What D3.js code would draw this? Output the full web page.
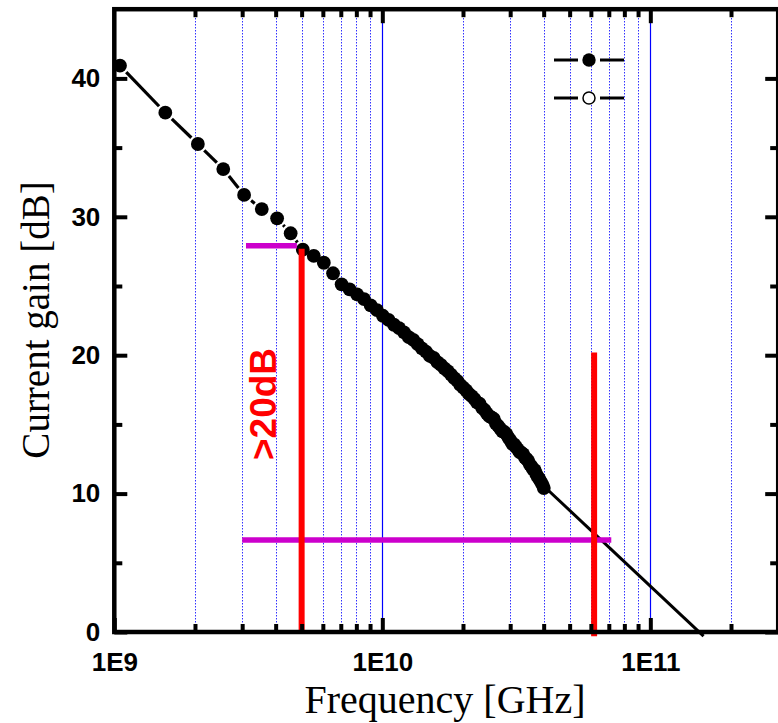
<!DOCTYPE html>
<html>
<head>
<meta charset="utf-8">
<script src="https://cdn.jsdelivr.net/npm/d3@7"></script>
<style>
body { margin: 0; background: #fff; }
svg { display: block; }
.tick text { font-family: "Liberation Sans", Arial, sans-serif; font-weight: bold; font-size: 26px; fill: #000; }
</style>
</head>
<body>
<div id="chart"></div>
<script>
// measured current gain, frequency in GHz
var freqGHz = [1.05, 1.55, 2.05, 2.55, 3.05, 3.55, 4.05, 4.55, 5.05, 5.55,
	6.05, 6.55, 7.05, 7.55, 8.05, 8.55, 9.05, 9.55, 10.05, 10.55,
	11.05, 11.55, 12.05, 12.55, 13.05, 13.55, 14.05, 14.55, 15.05, 15.55,
	16.05, 16.55, 17.05, 17.55, 18.05, 18.55, 19.05, 19.55, 20.05, 20.55,
	21.05, 21.55, 22.05, 22.55, 23.05, 23.55, 24.05, 24.55, 25.05, 25.55,
	26.05, 26.55, 27.05, 27.55, 28.05, 28.55, 29.05, 29.55, 30.05, 30.55,
	31.05, 31.55, 32.05, 32.55, 33.05, 33.55, 34.05, 34.55, 35.05, 35.55,
	36.05, 36.55, 37.05, 37.55, 38.05, 38.55, 39.05, 39.55, 40.05];
var gainDb = [40.92, 37.52, 35.26, 33.45, 31.58, 30.56, 29.89, 28.81, 27.62, 27.17,
	26.68, 25.92, 25.12, 24.75, 24.40, 24.05, 23.60, 23.25, 22.85, 22.55,
	22.20, 21.95, 21.65, 21.30, 21.10, 20.80, 20.50, 20.25, 19.95, 19.80,
	19.50, 19.30, 19.05, 18.85, 18.60, 18.35, 18.15, 17.85, 17.65, 17.45,
	17.20, 17.05, 16.85, 16.60, 16.50, 16.20, 16.05, 15.80, 15.60, 15.50,
	15.40, 15.05, 14.90, 14.70, 14.50, 14.45, 14.30, 14.05, 13.85, 13.60,
	13.55, 13.35, 13.20, 13.00, 12.95, 12.85, 12.60, 12.50, 12.35, 12.10,
	11.95, 11.75, 11.70, 11.40, 11.20, 11.05, 10.85, 10.65, 10.40];

// extrapolation line
var fitFreq = [4.0e10, 1.58e11];
var fitGain = [10.55, -0.3];

// annotations
var markFreq = [5e9, 6.17e10];
var markTop = [27.7, 20.2];
var markBottom = [0, -0.3];
var spanFrom = [3.1e9, 3e9];
var spanTo = [4.8e9, 7.15e10];
var spanGain = [27.9, 6.65];

// axes
var majorX = [1e9, 1e10, 1e11];
var majorXLabels = ['1E9', '1E10', '1E11'];
var minorX = [2e9, 3e9, 4e9, 5e9, 6e9, 7e9, 8e9, 9e9,
	2e10, 3e10, 4e10, 5e10, 6e10, 7e10, 8e10, 9e10, 2e11];
var majorY = [0, 10, 20, 30, 40];
var minorY = [5, 15, 25, 35];

var W = 778, H = 723;
var margin = { top: 9.2, left: 114.3 };
var pw = 778.2 - margin.left, ph = 632 - margin.top;

var svg = d3.select('#chart').append('svg')
	.attr('width', W).attr('height', H);

var x = d3.scaleLog().domain([1e9, 3e11]).range([0, pw]);
var y = d3.scaleLinear().domain([0, 45]).range([ph, 0]);

var g = svg.append('g').attr('transform', 'translate(' + margin.left + ',' + margin.top + ')');

// grid
var grid = g.append('g');
grid.selectAll('line.minor').data(minorX).enter().append('line')
	.attr('x1', function (d) { return Math.round(x(d) + margin.left) - margin.left + 0.5; })
	.attr('x2', function (d) { return Math.round(x(d) + margin.left) - margin.left + 0.5; })
	.attr('y1', 0).attr('y2', ph)
	.attr('stroke', '#0000ff').attr('stroke-width', 1)
	.attr('stroke-dasharray', '1.2,1.8');
grid.selectAll('line.major').data(majorX.slice(1)).enter().append('line')
	.attr('x1', function (d) { return Math.round(x(d) + margin.left) - margin.left + 0.5; })
	.attr('x2', function (d) { return Math.round(x(d) + margin.left) - margin.left + 0.5; })
	.attr('y1', 0).attr('y2', ph)
	.attr('stroke', '#0000ff').attr('stroke-width', 1.2);

// connecting line with gaps round the symbols
var pts = freqGHz.map(function (f, i) { return [x(f * 1e9), y(gainDb[i])]; });
var gap = 9;
var segs = [];
for (var i = 0; i < pts.length - 1; i++) {
	var dx = pts[i + 1][0] - pts[i][0], dy = pts[i + 1][1] - pts[i][1];
	var len = Math.sqrt(dx * dx + dy * dy);
	if (len > 2 * gap) {
		var ux = dx / len, uy = dy / len;
		segs.push([pts[i][0] + ux * gap, pts[i][1] + uy * gap, pts[i + 1][0] - ux * gap, pts[i + 1][1] - uy * gap]);
	}
}
g.selectAll('line.seg').data(segs).enter().append('line')
	.attr('x1', function (d) { return d[0]; }).attr('y1', function (d) { return d[1]; })
	.attr('x2', function (d) { return d[2]; }).attr('y2', function (d) { return d[3]; })
	.attr('stroke', '#000').attr('stroke-width', 3.2);

// extrapolation
g.append('path')
	.datum(fitFreq.map(function (f, i) { return [f, fitGain[i]]; }))
	.attr('d', d3.line().x(function (d) { return x(d[0]); }).y(function (d) { return y(d[1]); }))
	.attr('stroke', '#000').attr('stroke-width', 3).attr('fill', 'none');

g.selectAll('circle.pt').data(pts).enter().append('circle')
	.attr('cx', function (d) { return d[0]; }).attr('cy', function (d) { return d[1]; })
	.attr('r', 6.9).attr('fill', '#000');

// magenta spans
g.selectAll('line.span').data(spanGain).enter().append('line')
	.attr('x1', function (d, i) { return x(spanFrom[i]); })
	.attr('x2', function (d, i) { return x(spanTo[i]); })
	.attr('y1', function (d) { return y(d); }).attr('y2', function (d) { return y(d); })
	.attr('stroke', '#cc00cc').attr('stroke-width', 5.5);

// red markers
g.selectAll('line.mark').data(markFreq).enter().append('line')
	.attr('x1', function (d) { return x(d); }).attr('x2', function (d) { return x(d); })
	.attr('y1', function (d, i) { return y(markBottom[i]); })
	.attr('y2', function (d, i) { return y(markTop[i]); })
	.attr('stroke', '#ff0000').attr('stroke-width', 6);

g.append('text')
	.attr('transform', 'translate(' + (276 - margin.left) + ',' + (404 - margin.top) + ') rotate(-90)')
	.attr('text-anchor', 'middle')
	.attr('font-family', '"Liberation Sans", Arial, sans-serif')
	.attr('font-weight', 'bold').attr('font-size', 37)
	.attr('fill', '#ff0000')
	.text('>20dB');

// axes, ticks point inward
function styleAxis(sel) {
	sel.select('.domain').remove();
	sel.selectAll('.tick line').attr('stroke', '#000').attr('stroke-width', 4);
}
g.append('g').attr('transform', 'translate(0,' + ph + ')')
	.call(d3.axisBottom(x).tickValues(majorX).tickSize(-14).tickPadding(20.5)
		.tickFormat(function (d, i) { return majorXLabels[i]; }))
	.call(styleAxis);
g.append('g').attr('transform', 'translate(0,' + ph + ')')
	.call(d3.axisBottom(x).tickValues(minorX).tickSize(-8).tickFormat(''))
	.call(styleAxis);
g.append('g')
	.call(d3.axisTop(x).tickValues(majorX.slice(1)).tickSize(-14).tickFormat(''))
	.call(styleAxis);
g.append('g')
	.call(d3.axisTop(x).tickValues(minorX).tickSize(-8).tickFormat(''))
	.call(styleAxis);
g.append('g')
	.call(d3.axisLeft(y).tickValues(majorY).tickSize(-13).tickPadding(14).tickFormat(d3.format('d')))
	.call(styleAxis);
g.append('g')
	.call(d3.axisLeft(y).tickValues(minorY).tickSize(-8).tickFormat(''))
	.call(styleAxis);
g.append('g').attr('transform', 'translate(' + pw + ',0)')
	.call(d3.axisRight(y).tickValues(majorY).tickSize(-13).tickFormat(''))
	.call(styleAxis);
g.append('g').attr('transform', 'translate(' + pw + ',0)')
	.call(d3.axisRight(y).tickValues(minorY).tickSize(-8).tickFormat(''))
	.call(styleAxis);

// frame
g.append('rect').attr('x', 0).attr('y', 0).attr('width', pw).attr('height', ph)
	.attr('fill', 'none').attr('stroke', '#000').attr('stroke-width', 4.5);

// legend (no labels in the original)
var legendY = [60, 98];
var legend = svg.append('g');
legendY.forEach(function (ly, i) {
	legend.append('line').attr('x1', 554).attr('x2', 578).attr('y1', ly).attr('y2', ly)
		.attr('stroke', '#000').attr('stroke-width', 3);
	legend.append('line').attr('x1', 600).attr('x2', 624).attr('y1', ly).attr('y2', ly)
		.attr('stroke', '#000').attr('stroke-width', 3);
	legend.append('circle').attr('cx', 589).attr('cy', ly).attr('r', i === 0 ? 6.7 : 6)
		.attr('fill', i === 0 ? '#000' : '#fff').attr('stroke', '#000').attr('stroke-width', i === 0 ? 0 : 1.5);
});

// axis titles
svg.append('text')
	.attr('x', 445).attr('y', 713)
	.attr('text-anchor', 'middle')
	.attr('font-family', '"Liberation Serif", "Times New Roman", serif')
	.attr('font-size', 40)
	.text('Frequency [GHz]');
svg.append('text')
	.attr('transform', 'translate(49,320) rotate(-90)')
	.attr('text-anchor', 'middle')
	.attr('font-family', '"Liberation Serif", "Times New Roman", serif')
	.attr('font-size', 39)
	.text('Current gain [dB]');
</script>
</body>
</html>
